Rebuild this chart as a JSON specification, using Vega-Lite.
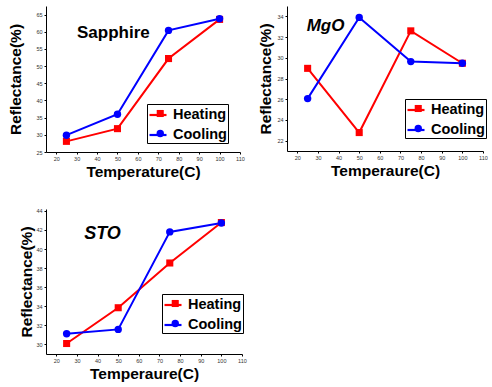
{
  "$schema": "https://vega.github.io/schema/vega-lite/v6.json",
  "padding": {"left": 8, "top": 6, "right": 0, "bottom": 0},
  "datasets": {
    "sapphire": [
      {"T": 25, "R": 28.1, "series": "Heating"},
      {"T": 50, "R": 31.8, "series": "Heating"},
      {"T": 75, "R": 52.2, "series": "Heating"},
      {"T": 100, "R": 63.6, "series": "Heating"},
      {"T": 25, "R": 29.9, "series": "Cooling"},
      {"T": 50, "R": 36.0, "series": "Cooling"},
      {"T": 75, "R": 60.4, "series": "Cooling"},
      {"T": 100, "R": 63.8, "series": "Cooling"}
    ],
    "mgo": [
      {"T": 25, "R": 28.98, "series": "Heating"},
      {"T": 50, "R": 22.78, "series": "Heating"},
      {"T": 75, "R": 32.6, "series": "Heating"},
      {"T": 100, "R": 29.47, "series": "Heating"},
      {"T": 25, "R": 26.06, "series": "Cooling"},
      {"T": 50, "R": 33.9, "series": "Cooling"},
      {"T": 75, "R": 29.63, "series": "Cooling"},
      {"T": 100, "R": 29.47, "series": "Cooling"}
    ],
    "sto": [
      {"T": 25, "R": 30.1, "series": "Heating"},
      {"T": 50, "R": 33.85, "series": "Heating"},
      {"T": 75, "R": 38.54, "series": "Heating"},
      {"T": 100, "R": 42.78, "series": "Heating"},
      {"T": 25, "R": 31.12, "series": "Cooling"},
      {"T": 50, "R": 31.58, "series": "Cooling"},
      {"T": 75, "R": 41.8, "series": "Cooling"},
      {"T": 100, "R": 42.74, "series": "Cooling"}
    ]
  },
  "resolve": {"scale": {"color": "independent", "shape": "independent", "x": "independent", "y": "independent"}, "legend": {"color": "independent", "shape": "independent"}},
  "spacing": 28,
  "vconcat": [
    {
      "spacing": 13,
      "hconcat": [
        {
          "width": 194, "height": 146,
          "data": {"name": "sapphire"},
          "resolve": {"scale": {"color": "independent"}, "legend": {"color": "independent"}},
          "layer": [
            {
              "mark": {"type": "line", "strokeWidth": 2},
              "encoding": {
                "x": {"field": "T", "type": "quantitative", "scale": {"domain": [15, 110], "nice": false}, "axis": {"title": "Temperature(C)", "values": [20, 30, 40, 50, 60, 70, 80, 90, 100, 110], "tickCount": 30, "format": "d"}},
                "y": {"field": "R", "type": "quantitative", "scale": {"domain": [25, 67.5], "nice": false, "zero": false}, "axis": {"title": "Reflectance(%)", "values": [25, 30, 35, 40, 45, 50, 55, 60, 65], "tickCount": 30, "format": "d", "titlePadding": 12.5}},
                "color": {"field": "series", "type": "nominal", "scale": {"domain": ["Heating", "Cooling"], "range": ["#ff0000", "#0000ff"]},
                  "legend": {"legendX": 101, "legendY": 98, "zindex": 0, "symbolType": "stroke", "symbolSize": 289, "symbolStrokeWidth": 2.2, "padding": 1, "rowPadding": 3, "labelOffset": 5}}
              }
            },
            {
              "transform": [{"filter": "datum.series === 'Heating'"}],
              "mark": {"type": "point", "filled": true, "opacity": 1, "size": 50, "shape": "square"},
              "encoding": {
                "x": {"field": "T", "type": "quantitative"},
                "y": {"field": "R", "type": "quantitative"},
                "color": {"field": "series", "type": "nominal", "scale": {"domain": ["Heating"], "range": ["#ff0000"]},
                  "legend": {"legendX": 106, "legendY": 99.25, "zindex": 1, "symbolType": "square", "symbolSize": 50, "padding": 1, "labelOffset": 5, "labelColor": "transparent", "fillColor": "transparent", "strokeColor": "transparent"}}
              }
            },
            {
              "transform": [{"filter": "datum.series === 'Cooling'"}],
              "mark": {"type": "point", "filled": true, "opacity": 1, "size": 55, "shape": "circle"},
              "encoding": {
                "x": {"field": "T", "type": "quantitative"},
                "y": {"field": "R", "type": "quantitative"},
                "color": {"field": "series", "type": "nominal", "scale": {"domain": ["Cooling"], "range": ["#0000ff"]},
                  "legend": {"legendX": 106, "legendY": 119.25, "zindex": 1, "symbolType": "circle", "symbolSize": 55, "padding": 1, "labelOffset": 5, "labelColor": "transparent", "fillColor": "transparent", "strokeColor": "transparent"}}
              }
            },
            {
              "data": {"values": [{"label": "Sapphire"}]},
              "mark": {"type": "text", "font": "Liberation Sans", "fontSize": 17, "fontWeight": "bold", "align": "center", "baseline": "middle", "color": "black"},
              "encoding": {
                "x": {"datum": 48},
                "y": {"datum": 59.5},
                "text": {"field": "label"}
              }
            }
          ]
        },
        {
          "width": 196, "height": 145,
          "data": {"name": "mgo"},
          "resolve": {"scale": {"color": "independent"}, "legend": {"color": "independent"}},
          "layer": [
            {
              "mark": {"type": "line", "strokeWidth": 2},
              "encoding": {
                "x": {"field": "T", "type": "quantitative", "scale": {"domain": [15, 110], "nice": false}, "axis": {"title": "Temperaure(C)", "values": [20, 30, 40, 50, 60, 70, 80, 90, 100, 110], "tickCount": 30, "format": "d"}},
                "y": {"field": "R", "type": "quantitative", "scale": {"domain": [21, 35], "nice": false, "zero": false}, "axis": {"title": "Reflectance(%)", "values": [22, 24, 26, 28, 30, 32, 34], "tickCount": 30, "format": "d", "titlePadding": 3}},
                "color": {"field": "series", "type": "nominal", "scale": {"domain": ["Heating", "Cooling"], "range": ["#ff0000", "#0000ff"]},
                  "legend": {"legendX": 118, "legendY": 93, "zindex": 0, "symbolType": "stroke", "symbolSize": 289, "symbolStrokeWidth": 2.2, "padding": 1, "rowPadding": 3, "labelOffset": 5}}
              }
            },
            {
              "transform": [{"filter": "datum.series === 'Heating'"}],
              "mark": {"type": "point", "filled": true, "opacity": 1, "size": 50, "shape": "square"},
              "encoding": {
                "x": {"field": "T", "type": "quantitative"},
                "y": {"field": "R", "type": "quantitative"},
                "color": {"field": "series", "type": "nominal", "scale": {"domain": ["Heating"], "range": ["#ff0000"]},
                  "legend": {"legendX": 123, "legendY": 94.25, "zindex": 1, "symbolType": "square", "symbolSize": 50, "padding": 1, "labelOffset": 5, "labelColor": "transparent", "fillColor": "transparent", "strokeColor": "transparent"}}
              }
            },
            {
              "transform": [{"filter": "datum.series === 'Cooling'"}],
              "mark": {"type": "point", "filled": true, "opacity": 1, "size": 55, "shape": "circle"},
              "encoding": {
                "x": {"field": "T", "type": "quantitative"},
                "y": {"field": "R", "type": "quantitative"},
                "color": {"field": "series", "type": "nominal", "scale": {"domain": ["Cooling"], "range": ["#0000ff"]},
                  "legend": {"legendX": 123, "legendY": 114.25, "zindex": 1, "symbolType": "circle", "symbolSize": 55, "padding": 1, "labelOffset": 5, "labelColor": "transparent", "fillColor": "transparent", "strokeColor": "transparent"}}
              }
            },
            {
              "data": {"values": [{"label": "MgO"}]},
              "mark": {"type": "text", "font": "Liberation Sans", "fontSize": 17, "fontWeight": "bold", "fontStyle": "italic", "align": "center", "baseline": "middle", "color": "black"},
              "encoding": {
                "x": {"datum": 33.7},
                "y": {"datum": 33.06},
                "text": {"field": "label"}
              }
            }
          ]
        }
      ],
      "resolve": {"scale": {"color": "independent", "shape": "independent", "x": "independent", "y": "independent"}, "legend": {"color": "independent", "shape": "independent"}}
    },
    {
      "width": 196, "height": 145,
      "data": {"name": "sto"},
      "resolve": {"scale": {"color": "independent"}, "legend": {"color": "independent"}},
      "layer": [
        {
          "mark": {"type": "line", "strokeWidth": 2},
          "encoding": {
            "x": {"field": "T", "type": "quantitative", "scale": {"domain": [15, 110], "nice": false}, "axis": {"title": "Temperaure(C)", "values": [20, 30, 40, 50, 60, 70, 80, 90, 100, 110], "tickCount": 30, "format": "d"}},
            "y": {"field": "R", "type": "quantitative", "scale": {"domain": [29, 44.2], "nice": false, "zero": false}, "axis": {"title": "Reflectance(%)", "values": [30, 32, 34, 36, 38, 40, 42, 44], "tickCount": 30, "format": "d", "titlePadding": 1.5}},
            "color": {"field": "series", "type": "nominal", "scale": {"domain": ["Heating", "Cooling"], "range": ["#ff0000", "#0000ff"]},
              "legend": {"legendX": 116, "legendY": 85, "zindex": 0, "symbolType": "stroke", "symbolSize": 289, "symbolStrokeWidth": 2.2, "padding": 1, "rowPadding": 3, "labelOffset": 5}}
          }
        },
        {
          "transform": [{"filter": "datum.series === 'Heating'"}],
          "mark": {"type": "point", "filled": true, "opacity": 1, "size": 50, "shape": "square"},
          "encoding": {
            "x": {"field": "T", "type": "quantitative"},
            "y": {"field": "R", "type": "quantitative"},
            "color": {"field": "series", "type": "nominal", "scale": {"domain": ["Heating"], "range": ["#ff0000"]},
              "legend": {"legendX": 121, "legendY": 86.25, "zindex": 1, "symbolType": "square", "symbolSize": 50, "padding": 1, "labelOffset": 5, "labelColor": "transparent", "fillColor": "transparent", "strokeColor": "transparent"}}
          }
        },
        {
          "transform": [{"filter": "datum.series === 'Cooling'"}],
          "mark": {"type": "point", "filled": true, "opacity": 1, "size": 55, "shape": "circle"},
          "encoding": {
            "x": {"field": "T", "type": "quantitative"},
            "y": {"field": "R", "type": "quantitative"},
            "color": {"field": "series", "type": "nominal", "scale": {"domain": ["Cooling"], "range": ["#0000ff"]},
              "legend": {"legendX": 121, "legendY": 106.25, "zindex": 1, "symbolType": "circle", "symbolSize": 55, "padding": 1, "labelOffset": 5, "labelColor": "transparent", "fillColor": "transparent", "strokeColor": "transparent"}}
          }
        },
        {
          "data": {"values": [{"label": "STO"}]},
          "mark": {"type": "text", "font": "Liberation Sans", "fontSize": 18, "fontWeight": "bold", "fontStyle": "italic", "align": "center", "baseline": "middle", "color": "black"},
          "encoding": {
            "x": {"datum": 42.4},
            "y": {"datum": 41.6},
            "text": {"field": "label"}
          }
        }
      ]
    }
  ],
  "config": {
    "view": {"stroke": null},
    "axis": {
      "grid": false, "domainColor": "black", "domainWidth": 1, "tickColor": "black", "tickSize": 2,
      "labelFont": "Liberation Sans", "labelFontSize": 5.5, "labelColor": "#333", "labelPadding": 2, "labelFlush": false, "labelOverlap": false,
      "titleFont": "Liberation Sans", "titleFontSize": 15.5, "titleFontWeight": "bold", "titleColor": "black"
    },
    "axisX": {"titlePadding": 3},
    "legend": {
      "orient": "none", "title": null,
      "strokeColor": "black", "fillColor": "white",
      "labelFont": "Liberation Sans", "labelFontSize": 14.5, "labelFontWeight": "bold", "labelColor": "black"
    }
  }
}
